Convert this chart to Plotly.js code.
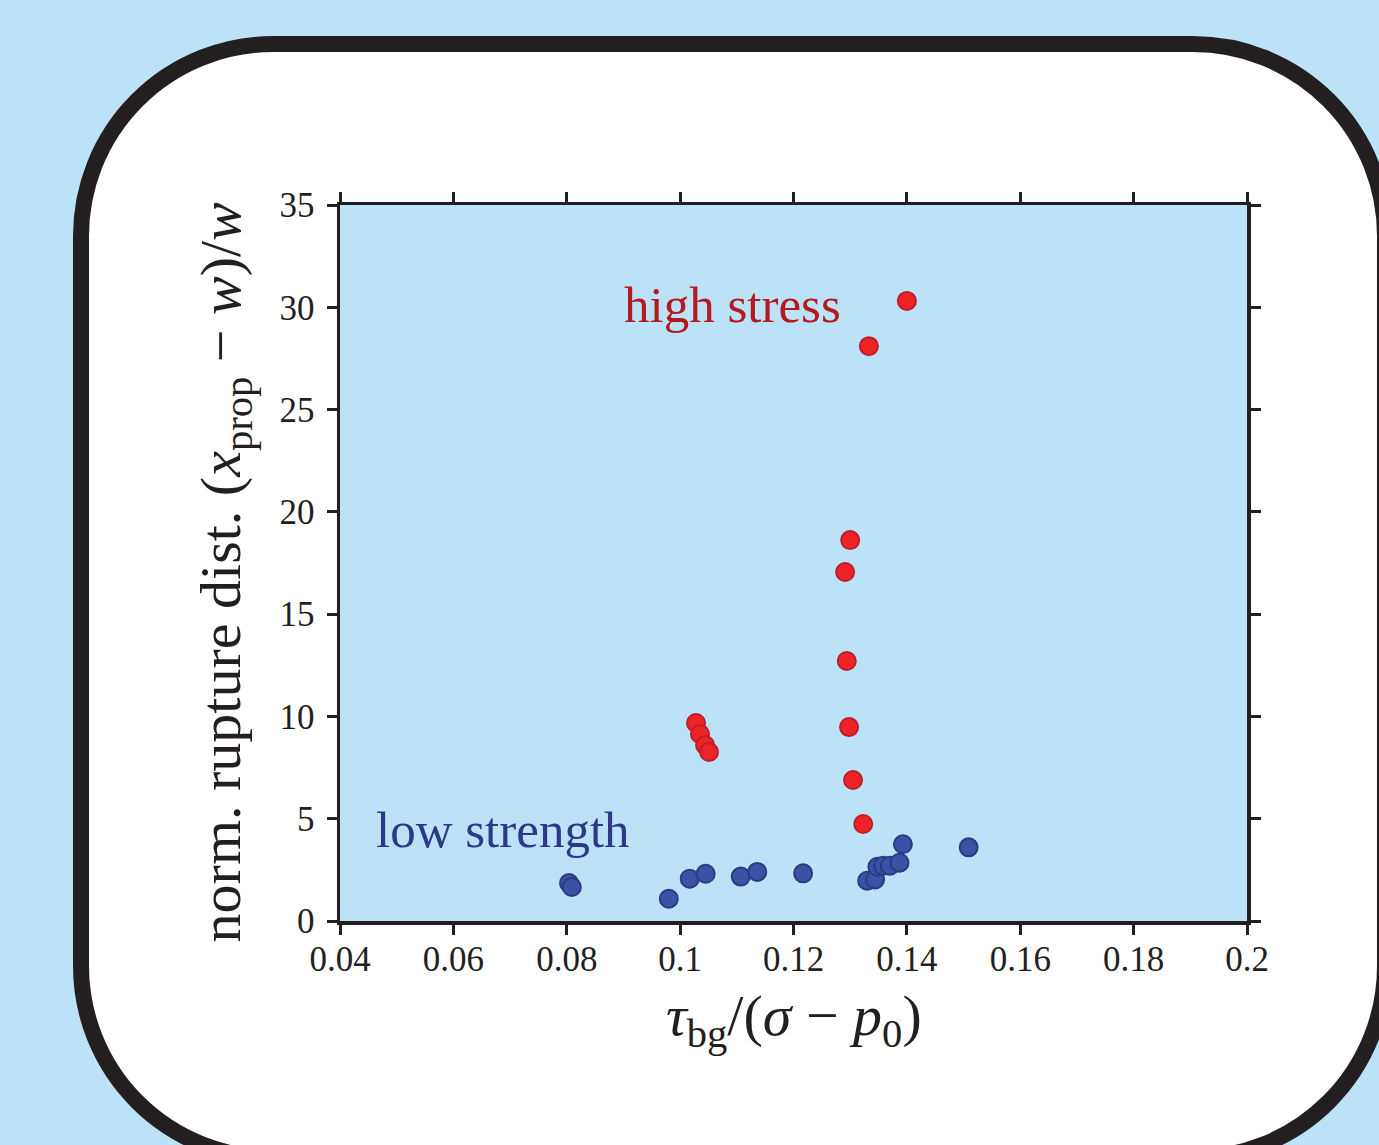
<!DOCTYPE html>
<html>
<head>
<meta charset="utf-8">
<script src="https://cdn.plot.ly/plotly-3.0.1.min.js"></script>
<style>
  html, body { margin: 0; padding: 0; width: 1379px; height: 1145px; overflow: hidden; background: #bbe2f6; }
  #frame { position: absolute; left: 73px; top: 36px; width: 1320px; height: 1130px; box-sizing: border-box;
           border: 16px solid #231f20; border-radius: 200px; background: #ffffff; }
  #chart { position: absolute; left: 0; top: 0; width: 1379px; height: 1145px; }
</style>
</head>
<body>
<div id="frame"></div>
<div id="chart"></div>
<script>
// High stress series (red)
const highStressX = [0.1400, 0.1333, 0.1300, 0.1291, 0.1294, 0.1298, 0.1305, 0.1323, 0.1028, 0.1035, 0.1044, 0.1051];
const highStressY = [30.31, 28.10, 18.62, 17.06, 12.71, 9.48, 6.89, 4.74, 9.68, 9.14, 8.60, 8.26];

// Low strength series (blue)
const lowStrengthX = [0.0804, 0.0809, 0.0980, 0.1017, 0.1045, 0.1107, 0.1136, 0.1217, 0.1330, 0.1344, 0.1348, 0.1358, 0.1370, 0.1387, 0.1393, 0.1509];
const lowStrengthY = [1.86, 1.66, 1.09, 2.07, 2.31, 2.17, 2.40, 2.33, 1.97, 2.03, 2.65, 2.70, 2.70, 2.85, 3.75, 3.60];

// Tick labels
const xTickVals = [0.04, 0.06, 0.08, 0.1, 0.12, 0.14, 0.16, 0.18, 0.2];
const xTickText = ["0.04", "0.06", "0.08", "0.1", "0.12", "0.14", "0.16", "0.18", "0.2"];
const yTickVals = [0, 5, 10, 15, 20, 25, 30, 35];
const yTickText = ["0", "5", "10", "15", "20", "25", "30", "35"];

const ink = '#231f20';
const serif = 'Liberation Serif, Times New Roman, serif';

const traces = [
  {
    x: lowStrengthX, y: lowStrengthY, type: 'scatter', mode: 'markers', name: 'low strength',
    marker: { size: 18, color: '#3a53a4', line: { color: '#2a3c85', width: 2 } },
    cliponaxis: false
  },
  {
    x: highStressX, y: highStressY, type: 'scatter', mode: 'markers', name: 'high stress',
    marker: { size: 18, color: '#ee2326', line: { color: '#be1e2d', width: 2 } },
    cliponaxis: false
  }
];

const axisCommon = {
  showgrid: false, zeroline: false,
  showline: true, linecolor: ink, linewidth: 3.5, mirror: 'allticks',
  ticks: 'outside', ticklen: 10, tickwidth: 3, tickcolor: ink,
  tickfont: { family: serif, size: 35, color: ink },
  tickmode: 'array'
};

const layout = {
  width: 1379, height: 1145,
  margin: { l: 340, r: 132, t: 205, b: 224, pad: 0 },
  paper_bgcolor: 'rgba(0,0,0,0)',
  plot_bgcolor: '#bbe2f6',
  showlegend: false,
  xaxis: Object.assign({}, axisCommon, {
    range: [0.04, 0.2], tickvals: xTickVals, ticktext: xTickText, ticklabelstandoff: -6
  }),
  yaxis: Object.assign({}, axisCommon, {
    range: [0, 35], tickvals: yTickVals, ticktext: yTickText, ticklabelstandoff: 5
  }),
  annotations: [
    {
      xref: 'paper', yref: 'paper', x: -0.127, y: 0.488, textangle: -90,
      xanchor: 'center', yanchor: 'middle', showarrow: false,
      text: 'norm. rupture dist. (<i>x</i><sub>prop</sub> − <i>w</i>)/<i>w</i>',
      font: { family: serif, size: 58, color: ink }
    },
    {
      xref: 'paper', yref: 'paper', x: 0.501, y: -0.137,
      xanchor: 'center', yanchor: 'middle', showarrow: false,
      text: '<i>τ</i><sub>bg</sub>/(<i>σ</i> − <i>p</i><sub>0</sub>)',
      font: { family: serif, size: 58, color: ink }
    },
    {
      xref: 'x', yref: 'y', x: 0.1092, y: 30.1,
      xanchor: 'center', yanchor: 'middle', showarrow: false,
      text: 'high stress',
      font: { family: serif, size: 51, color: '#b5191f' }
    },
    {
      xref: 'x', yref: 'y', x: 0.0688, y: 4.45,
      xanchor: 'center', yanchor: 'middle', showarrow: false,
      text: 'low strength',
      font: { family: serif, size: 51, color: '#2b3a88' }
    }
  ]
};

Plotly.newPlot('chart', traces, layout, { displayModeBar: false, staticPlot: true });
</script>
</body>
</html>
